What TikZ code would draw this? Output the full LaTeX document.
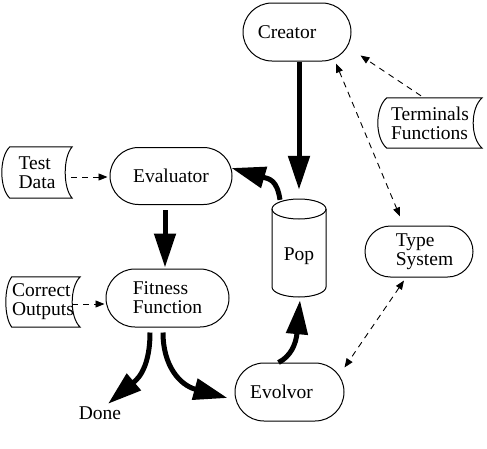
\documentclass[tikz,border=0pt]{standalone}
\usepackage{fontspec}
\setmainfont{Liberation Serif}
\usetikzlibrary{arrows.meta,calc}
\tikzset{
  every node/.style={font=\fontsize{19.5pt}{19pt}\selectfont, inner sep=0pt},
  procbox/.style={draw, line width=1pt, rectangle},
  storebox/.style={rectangle},
  bigarrow/.style={line width=5pt, -{Triangle[length=34pt,width=21pt]}},
  dasharrow/.style={line width=0.9pt, dash pattern=on 6pt off 5pt, -{Triangle[length=9pt,width=7pt]}},
  dashboth/.style={line width=0.9pt, dash pattern=on 6pt off 5pt, {Triangle[length=9pt,width=7pt]}-{Triangle[length=9pt,width=7pt]}},
  shapeline/.style={line width=1pt}
}
\newcommand\storeoutline[3]{%
  \draw[shapeline] ($(#1.north west)+(#2,0)$) -- (#1.north east)
    .. controls ($(#1.north east)!0.2!(#1.south east)+(-1.333*#3,0)$) and ($(#1.north east)!0.8!(#1.south east)+(-1.333*#3,0)$) .. (#1.south east)
    -- ($(#1.south west)+(#2,0)$)
    .. controls ($(#1.south west)!0.2!(#1.north west)+(-0.333*#2,0)$) and ($(#1.south west)!0.8!(#1.north west)+(-0.333*#2,0)$) .. cycle;
}
\begin{document}
\begin{tikzpicture}[x=1pt,y=-1pt]
\useasboundingbox (0,0) rectangle (487,448);

% process nodes
\node[procbox, minimum width=108pt, minimum height=58pt, rounded corners=29pt] (creator) at (297,32) {Creator\hspace*{20pt}};
\node[procbox, minimum width=122pt, minimum height=57pt, rounded corners=28.5pt] (evaluator) at (171,176) {Evaluator};
\node[procbox, minimum width=123pt, minimum height=58pt, rounded corners=29pt, align=left] (fitness) at (167.5,298) {Fitness\\Function};
\node[procbox, minimum width=108pt, minimum height=51pt, rounded corners=25.5pt, align=left] (typesys) at (419,251.5) {\hspace*{11pt}Type\\\hspace*{11pt}System};
\node[procbox, minimum width=109pt, minimum height=58pt, rounded corners=29pt] (evolvor) at (289.5,392) {Evolvor\hspace*{16pt}};

% population store (cylinder)
\node[minimum width=54pt, minimum height=98pt, text height=30pt, text depth=4.2pt] (pop) at (299,248) {Pop};
\draw[shapeline] (299,209) ellipse [x radius=27, y radius=10];
\draw[shapeline] (272,209) -- (272,287)
  .. controls (272,292.5) and (284.1,297) .. (299,297)
  .. controls (313.9,297) and (326,292.5) .. (326,287) -- (326,209);

% data stores
\node[storebox, minimum width=70pt, minimum height=51pt, align=left] (testdata) at (37,172.5) {Test\\Data};
\node[storebox, minimum width=74pt, minimum height=50pt, align=left] (correct) at (43,302) {Correct\\Outputs};
\node[storebox, minimum width=104pt, minimum height=50pt, align=left] (terminals) at (430,123) {Terminals\\Functions};
\storeoutline{testdata}{8}{7}
\storeoutline{correct}{6}{8}
\storeoutline{terminals}{9}{9}

\node (done) at (100,413.5) {Done};

% main flow
\draw[bigarrow] (creator.south -| pop.north) -- ($(pop.north)+(0,-9)$);
\draw[bigarrow] ($(pop.north)+(-19,1)$) .. controls +(-3,-20) and +(38,11) .. ($(evaluator.east)+(-1,-8)$);
\draw[bigarrow] ($(evaluator.south)+(-6,5)$) -- ($(fitness.north)+(-2.5,-1)$);
\draw[bigarrow] ($(fitness.south)+(-17.5,5)$) .. controls +(0,40) and +(26,-22) .. ($(done.north)+(8,-3)$);
\draw[bigarrow] ($(fitness.south)+(-4.5,5)$) .. controls +(0,33) and +(-48,-13) .. ($(evolvor.west)+(-7,6)$);
\draw[bigarrow] ($(evolvor.north)+(-11,0)$) .. controls +(12,-6) and +(-4,44) .. ($(pop.south)+(1,3)$);

% dashed links
\draw[dasharrow] ($(terminals.north)+(-9,-2)$) -- ($(creator.south east)+(9,-6)$);
\draw[dashboth] ($(creator.south)+(39,2)$) -- ($(typesys.north)+(-19,-9)$);
\draw[dashboth] ($(typesys.south)+(-15,3)$) -- ($(evolvor.north east)+(0,5)$);
\draw[dasharrow] ($(testdata.east)+(-1,4.5)$) -- ($(evaluator.west)+(-2,1)$);
\draw[dasharrow] ($(correct.east)+(-8,2)$) -- ($(fitness.west)+(-1,6)$);
\end{tikzpicture}
\end{document}
